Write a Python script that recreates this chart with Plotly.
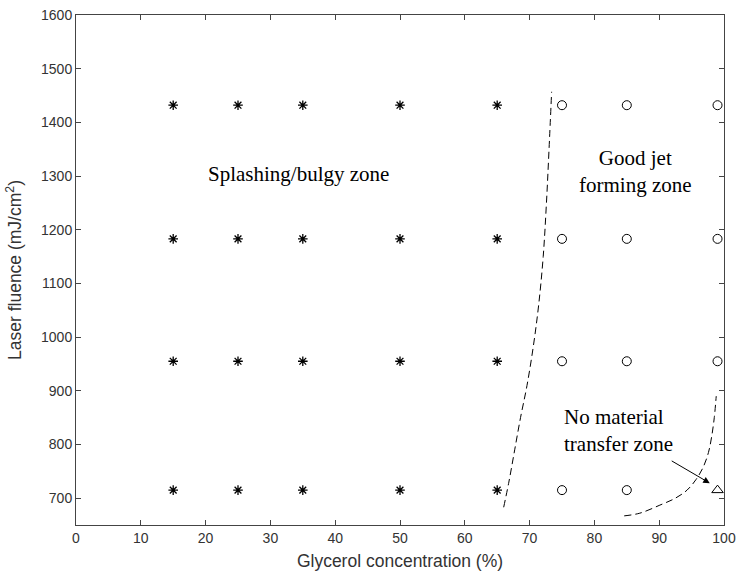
import plotly.graph_objects as go

# Data
glycerol_splash = [15, 25, 35, 50, 65]
glycerol_good = [75, 85, 99]
fluence_levels = [715, 955, 1183, 1432]
good_levels_full = [955, 1183, 1432]
good_low_x = [75, 85]
nomat_x = [99]
nomat_y = [715]

boundary1_x = [66.0, 66.8, 67.7, 68.6, 69.6, 70.6, 71.4, 72.1, 72.6, 73.0, 73.4]
boundary1_y = [683, 730, 790, 850, 910, 985, 1060, 1150, 1250, 1350, 1457]

boundary2_x = [84.6, 87.0, 90.1, 92.5, 94.3, 95.7, 96.8, 97.6, 98.1, 98.5, 98.8]
boundary2_y = [667, 672, 687, 700, 715, 735, 758, 785, 815, 850, 890]

xticks = list(range(0, 101, 10))
yticks = list(range(700, 1601, 100))

sx, sy = [], []
for y in fluence_levels:
    for x in glycerol_splash:
        sx.append(x); sy.append(y)
gx, gy = [], []
for y in good_levels_full:
    for x in glycerol_good:
        gx.append(x); gy.append(y)
for x in good_low_x:
    gx.append(x); gy.append(fluence_levels[0])

fig = go.Figure()
fig.add_trace(go.Scatter(x=sx, y=sy, mode="markers",
                         marker=dict(symbol="asterisk-open", size=8, color="black",
                                     line=dict(color="black", width=1.3))))
fig.add_trace(go.Scatter(x=gx, y=gy, mode="markers",
                         marker=dict(symbol="circle-open", size=9, color="black",
                                     line=dict(color="black", width=1))))
fig.add_trace(go.Scatter(x=nomat_x, y=nomat_y, mode="markers",
                         marker=dict(symbol="triangle-up-open", size=10, color="black",
                                     line=dict(color="black", width=1))))
fig.add_trace(go.Scatter(x=boundary1_x, y=boundary1_y, mode="lines",
                         line=dict(color="black", width=1, dash="7px,4px", shape="spline")))
fig.add_trace(go.Scatter(x=boundary2_x, y=boundary2_y, mode="lines",
                         line=dict(color="black", width=1, dash="7px,4px", shape="spline")))

serif = dict(family="Liberation Serif, Times New Roman, serif", size=21, color="black")
fig.add_annotation(x=20.0, y=1304, text="Splashing/bulgy zone", showarrow=False,
                   xanchor="left", yanchor="middle", font=serif)
fig.add_annotation(x=86.3, y=1309, text="Good jet<br>forming zone", showarrow=False,
                   xanchor="center", yanchor="middle", align="center", font=serif)
fig.add_annotation(x=75.0, y=826, text="No material<br>transfer zone", showarrow=False,
                   xanchor="left", yanchor="middle", align="left", font=serif)
fig.add_annotation(x=97.8, y=728, ax=91.7, ay=771, axref="x", ayref="y",
                   text="", showarrow=True, arrowhead=2, arrowsize=1.3, arrowwidth=1,
                   arrowcolor="black")

sans = "Liberation Sans, Arial, sans-serif"
axis_common = dict(showgrid=False, zeroline=False, showline=True, linecolor="#444",
                   linewidth=1, mirror="ticks", ticks="inside", ticklen=5,
                   tickcolor="#444", automargin=False,
                   tickfont=dict(family=sans, size=14, color="#333"))
fig.update_xaxes(range=[0, 100], tickvals=xticks, **axis_common,
                 title=dict(text="Glycerol concentration (%)", standoff=9,
                            font=dict(family=sans, size=17.5, color="#333")))
fig.update_yaxes(range=[650, 1600], tickvals=yticks, **axis_common,
                 title=dict(text="Laser fluence (mJ/cm<sup>2</sup>)", standoff=14,
                            font=dict(family=sans, size=17.5, color="#333")))

fig.update_layout(width=738, height=573, showlegend=False,
                  margin=dict(l=76, r=14, t=15, b=48, autoexpand=False),
                  plot_bgcolor="white", paper_bgcolor="white")

fig.write_html("out.html")
